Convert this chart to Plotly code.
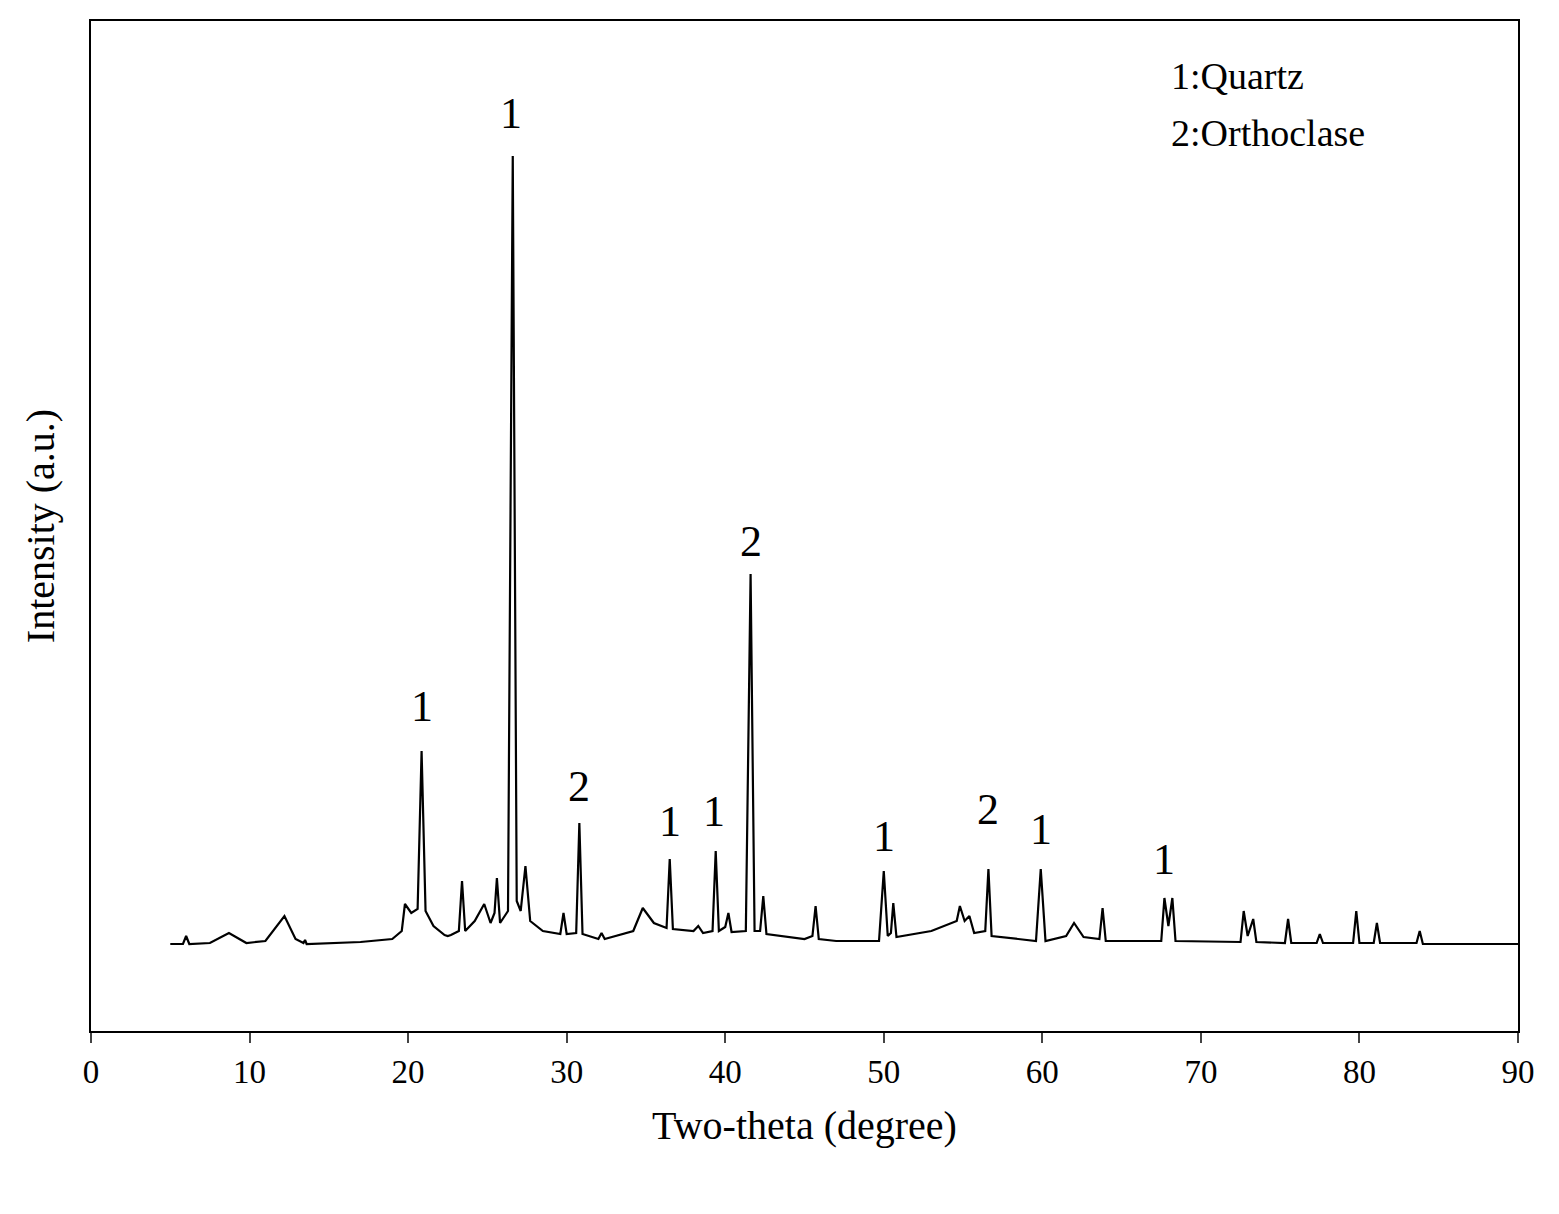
import plotly.graph_objects as go

# XRD pattern (two-theta, intensity a.u.)
two_theta = [5.0, 5.8, 6.0, 6.2, 7.5, 8.7, 9.8, 11.0, 12.2, 12.9, 13.4, 13.5, 13.6, 15, 17, 19.0, 19.6, 19.8, 20.2, 20.6, 20.85, 21.1, 21.6, 22.3, 22.5, 22.7, 23.2, 23.4, 23.6, 24.2, 24.8, 25.2, 25.45, 25.6, 25.8, 26.3, 26.6, 26.85, 27.1, 27.4, 27.7, 28.5, 29.6, 29.8, 30.0, 30.6, 30.8, 31.0, 32.0, 32.2, 32.4, 34.2, 34.8, 35.5, 36.3, 36.5, 36.7, 38.0, 38.3, 38.6, 39.2, 39.4, 39.6, 40.0, 40.2, 40.4, 41.3, 41.6, 41.85, 42.2, 42.4, 42.6, 45.0, 45.5, 45.7, 45.9, 47.0, 49.7, 50.0, 50.25, 50.45, 50.6, 50.8, 53.0, 54.6, 54.8, 55.1, 55.4, 55.7, 56.4, 56.6, 56.8, 59.6, 59.9, 60.2, 61.5, 62.0, 62.6, 63.6, 63.8, 64.0, 67.5, 67.7, 67.95, 68.2, 68.4, 72.5, 72.7, 72.95, 73.3, 73.5, 75.3, 75.5, 75.7, 77.3, 77.5, 77.7, 79.6, 79.8, 80.0, 80.9, 81.1, 81.3, 83.6, 83.8, 84.0, 90.0]
intensity = [87, 87, 95, 87, 88, 98, 88, 90, 115, 92, 88, 91, 87, 88, 89, 92, 100, 127, 118, 122, 280, 120, 105, 96, 95, 96, 100, 150, 100, 110, 127, 108, 118, 153, 108, 120, 875, 130, 120, 165, 110, 100, 97, 118, 97, 98, 208, 97, 92, 98, 92, 100, 123, 108, 103, 172, 102, 100, 105, 98, 100, 180, 100, 104, 118, 99, 100, 457, 100, 100, 135, 97, 92, 95, 125, 92, 90, 90, 160, 95, 98, 128, 94, 100, 110, 125, 110, 115, 98, 100, 162, 95, 90, 162, 90, 95, 108, 94, 92, 123, 90, 90, 133, 105, 133, 90, 89, 120, 95, 112, 89, 88, 112, 88, 88, 97, 88, 88, 120, 88, 88, 108, 88, 88, 100, 87, 87]

label_x = [20.85, 26.5, 30.8, 36.5, 39.3, 41.6, 50.0, 56.6, 59.9, 67.7]
label_y = [325, 918, 245, 210, 220, 490, 195, 222, 202, 172]
label_text = ["1", "1", "2", "1", "1", "2", "1", "2", "1", "1"]

legend_lines = ["1:Quartz", "2:Orthoclase"]

fig = go.Figure()
fig.add_trace(go.Scatter(x=two_theta, y=intensity, mode="lines",
                         line=dict(color="black", width=2.2), showlegend=False))

for x, y, t in zip(label_x, label_y, label_text):
    fig.add_annotation(x=x, y=y, text=t, showarrow=False,
                       font=dict(size=44, family="Liberation Serif", color="black"))

for i, t in enumerate(legend_lines):
    fig.add_annotation(x=68.0, y=955 - i * 57, text=t, showarrow=False, xanchor="left",
                       font=dict(size=38, family="Liberation Serif", color="black"))

fig.update_layout(
    width=1559, height=1214, paper_bgcolor="white", plot_bgcolor="white",
    margin=dict(l=83, r=49, t=13, b=191),
    font=dict(family="Liberation Serif", color="black"),
    xaxis=dict(range=[0, 90], dtick=10, ticks="outside", ticklen=10, tickwidth=2,
               showline=True, linecolor="black", linewidth=2, mirror=True,
               showgrid=False, zeroline=False, tickfont=dict(size=33),
               title=dict(text="Two-theta (degree)", font=dict(size=40), standoff=22)),
    yaxis=dict(range=[0, 1010], showticklabels=False, ticks="",
               showline=True, linecolor="black", linewidth=2, mirror=True,
               showgrid=False, zeroline=False,
               title=dict(text="Intensity (a.u.)", font=dict(size=40), standoff=22)),
)
fig.write_html("out.html")
